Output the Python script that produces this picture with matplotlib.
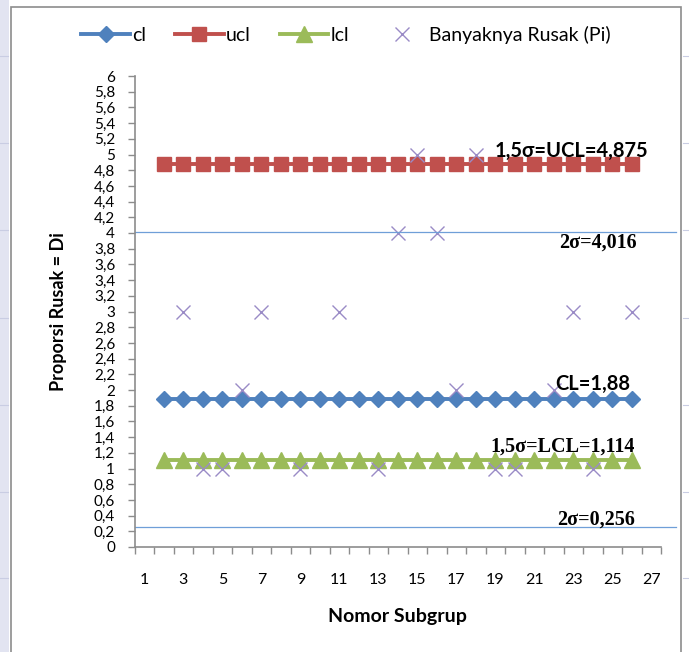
import numpy as np
import matplotlib.pyplot as plt
from matplotlib.patches import Rectangle
from matplotlib.ticker import FixedLocator, NullFormatter

plt.rcParams['font.family'] = ['Lato', 'DejaVu Sans']

# data subgrup
subgrup = np.arange(2, 27)
cl_val = 1.88
ucl_val = 4.875
lcl_val = 1.114
batas_atas = 4.016   # 2 sigma
batas_bawah = 0.256  # 2 sigma

cl = np.full(len(subgrup), cl_val)
ucl = np.full(len(subgrup), ucl_val)
lcl = np.full(len(subgrup), lcl_val)

# banyaknya rusak per subgrup (kosong = tidak ada titik)
pi = [np.nan, 3, 1, 1, 2, 3, np.nan, 1, np.nan, 3, np.nan, 1, 4,
      5, 4, 2, 5, 1, 1, np.nan, 2, 3, 1, np.nan, 3]

y_ticks = np.round(np.arange(0, 6.01, 0.2), 1)
x_labels = np.arange(1, 28, 2)

fig = plt.figure(figsize=(6.89, 6.52), dpi=100)

# bingkai chart + latar halaman di kiri
fig.patches.append(Rectangle((0, 0), 9 / 689, 1, transform=fig.transFigure,
                             facecolor='#e2e4f1', edgecolor='none', zorder=-2))
for yy in [56, 143, 230, 318, 405, 492, 578]:
    fig.add_artist(plt.Line2D([0, 8 / 689], [1 - yy / 652] * 2, transform=fig.transFigure,
                              color='#c9cde3', lw=0.8, zorder=-1))
    fig.add_artist(plt.Line2D([683 / 689, 1], [1 - yy / 652] * 2, transform=fig.transFigure,
                              color='#c9cde3', lw=0.8, zorder=-1))
fig.patches.append(Rectangle((11 / 689, -0.05), 670 / 689, 1.05 - 7 / 652,
                             transform=fig.transFigure, facecolor='none',
                             edgecolor='#8c8c8c', lw=1.2, zorder=-1))

ax = fig.add_axes([134.6 / 689, 1 - 547 / 652, 526.4 / 689, 471 / 652])
ax.set_facecolor('none')

ax.plot(subgrup, cl, color='#4f81bd', lw=2.8, marker='D', markersize=8.5, label='cl')
ax.plot(subgrup, ucl, color='#c0504d', lw=2.8, marker='s', markersize=10.5, label='ucl')
ax.plot(subgrup, lcl, color='#9bbb59', lw=2.8, marker='^', markersize=11, label='lcl')
ax.plot(subgrup, pi, linestyle='none', marker='x', markersize=10, mew=1.0,
        color='#9a8bc6', label='Banyaknya Rusak (Pi)')

# garis batas 2 sigma
for v in [batas_atas, batas_bawah]:
    ax.axhline(v, xmin=0, xmax=1.0285, color='#6f9fd8', lw=0.9, clip_on=False)

ax.set_xlim(0.5, 27.5)
ax.set_ylim(0, 6)

ax.set_yticks(y_ticks)
ax.set_yticklabels([('%g' % t).replace('.', ',') for t in y_ticks], fontsize=11)
ax.tick_params(axis='y', direction='out', length=5, width=1, color='#8c8c8c', pad=9)

ax.set_xticks(x_labels)
ax.set_xticklabels([str(t) for t in x_labels], fontsize=11.5)
ax.xaxis.set_minor_locator(FixedLocator(np.arange(0.5, 27.6, 1)))
ax.xaxis.set_minor_formatter(NullFormatter())
ax.tick_params(axis='x', which='major', length=0, pad=19)
ax.tick_params(axis='x', which='minor', direction='out', length=5, width=1, color='#8c8c8c')

for s in ['top', 'right']:
    ax.spines[s].set_visible(False)
for s in ['left', 'bottom']:
    ax.spines[s].set_color('#8c8c8c')
    ax.spines[s].set_linewidth(1.2)

ax.set_ylabel('Proporsi Rusak = Di', fontsize=13, fontweight='bold')
ax.yaxis.set_label_coords(-0.128, 0.5)
ax.set_xlabel('Nomor Subgrup', fontsize=14, fontweight='bold')
ax.xaxis.set_label_coords(0.5, -0.13)

# keterangan nilai batas
ax.annotate('1,5σ=UCL=4,875', xy=(26.83, ucl_val), xytext=(0, 5.5), textcoords='offset points',
            ha='right', va='baseline', fontsize=14.5, fontweight='bold')
ax.annotate('2σ=4,016', xy=(26.27, batas_atas), xytext=(0, -11.5), textcoords='offset points',
            ha='right', va='baseline', fontsize=14.5, fontweight='bold', family='Liberation Serif')
ax.annotate('CL=1,88', xy=(25.91, cl_val), xytext=(0, 6.8), textcoords='offset points',
            ha='right', va='baseline', fontsize=14.5, fontweight='bold')
ax.annotate('1,5σ=LCL=1,114', xy=(26.16, lcl_val), xytext=(0, 5.7), textcoords='offset points',
            ha='right', va='baseline', fontsize=14.5, fontweight='bold', family='Liberation Serif')
ax.annotate('2σ=0,256', xy=(26.16, batas_bawah), xytext=(0, 1.5), textcoords='offset points',
            ha='right', va='baseline', fontsize=14.5, fontweight='bold', family='Liberation Serif')

fig.legend(loc='center', bbox_to_anchor=(0.502, 1 - 35 / 652), ncol=4, frameon=False,
           fontsize=14, handlelength=2.5, handletextpad=0.1, columnspacing=1.5)

fig.savefig('out.png', dpi=100)
